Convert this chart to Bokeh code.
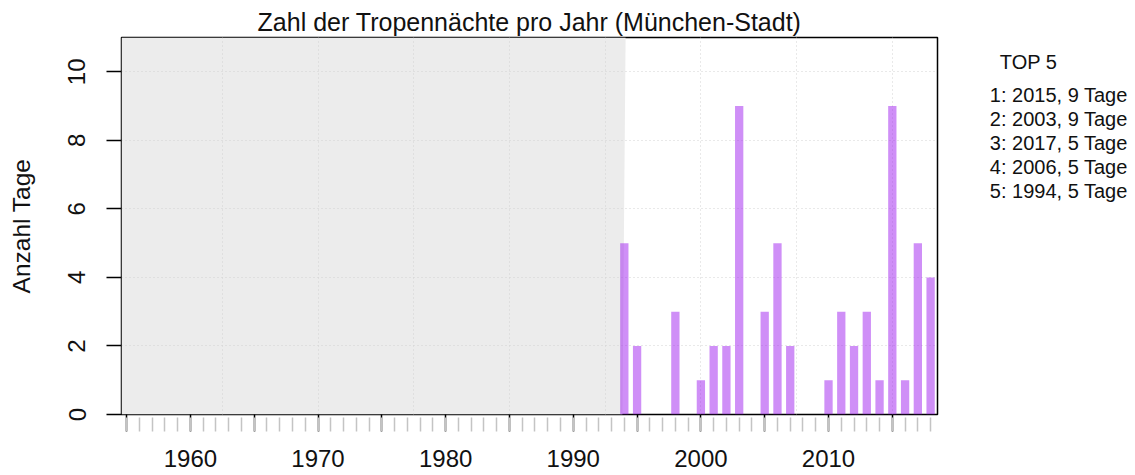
import numpy as np
from bokeh.plotting import figure
from bokeh.models import Range1d, FixedTicker, CustomJSTickFormatter
from bokeh.layouts import row
from bokeh.embed import file_html
from bokeh.resources import INLINE
from bokeh.core.properties import value

# ---- data ----
years = [1994, 1995, 1998, 2000, 2001, 2002, 2003, 2005, 2006, 2007,
         2010, 2011, 2012, 2013, 2014, 2015, 2016, 2017, 2018]
nights = [5, 2, 3, 1, 2, 2, 9, 3, 5, 2,
          1, 3, 2, 3, 1, 9, 1, 5, 4]
first_year = 1955
last_year = 2018
y_ticks = [0, 2, 4, 6, 8, 10]
# grey "no data" area ends (slightly slanted edge)
nodata_end_bottom = 1993.85
nodata_end_top = 1994.1

title_text = "Zahl der Tropennächte pro Jahr (München-Stadt)"
y_label = "Anzahl Tage"
legend_title = "TOP 5"
unit = "Tage"

FONT = "Liberation Sans"
TXT = "#111111"

# ---- ranking ----
ranked = sorted(zip(nights, years), reverse=True)[:5]
top_lines = [f"{i + 1}: {yr}, {n} {unit}" for i, (n, yr) in enumerate(ranked)]

# ---- layout constants (pixels) ----
W_MAIN, W_LEG, H = 945, 190, 475
B_LEFT, B_RIGHT, B_TOP, B_BOTTOM = 121, 8, 37, 61

# ---- main figure ----
x_lo, x_hi = 1954.6, 2018.54
y_lo, y_hi = 0, 11
p = figure(width=W_MAIN, height=H,
           x_range=Range1d(x_lo, x_hi), y_range=Range1d(y_lo, y_hi),
           output_backend="svg", toolbar_location=None,
           min_border_left=B_LEFT, min_border_right=B_RIGHT,
           min_border_top=B_TOP, min_border_bottom=B_BOTTOM)

p.title.text = title_text
p.title.align = "center"
p.title.text_font = FONT
p.title.text_font_size = "25px"
p.title.text_font_style = "normal"
p.title.text_color = TXT
p.title.standoff = 4
p.title.offset = 0

p.outline_line_color = "black"
p.outline_line_width = 1.5
p.background_fill_color = "white"
p.border_fill_color = "white"

# no-data area
p.patch(x=[x_lo, nodata_end_bottom, nodata_end_top, x_lo],
        y=[y_lo, y_lo, y_hi, y_hi],
        fill_color="#ececec", line_color=None, level="image")

# bars
p.vbar(x=years, top=nights, width=0.65, bottom=0,
       fill_color="#A020F0", fill_alpha=0.5, line_color=None)

# grid
p.xgrid.ticker = FixedTicker(ticks=list(np.arange(1962.5, 2016, 7.5)))
p.ygrid.ticker = FixedTicker(ticks=y_ticks)
for g in (p.xgrid, p.ygrid):
    g.grid_line_color = "#d3d3d3"
    g.grid_line_dash = "1 3"
    g.grid_line_width = 1

# x axis
xa = p.xaxis[0]
xa.ticker = FixedTicker(ticks=list(range(first_year, last_year + 1, 5)),
                        minor_ticks=list(range(first_year, last_year + 1)))
xa.formatter = CustomJSTickFormatter(code="return (tick % 10 === 0) ? tick.toFixed(0) : '';")
xa.axis_line_color = None
xa.major_tick_line_color = "black"
xa.major_tick_line_width = 1.5
xa.major_tick_out = 17
xa.major_tick_in = 0
xa.minor_tick_line_color = "#c4c4c4"
xa.minor_tick_line_width = 1.5
xa.minor_tick_out = 17
xa.minor_tick_in = -3
xa.major_label_text_font = FONT
xa.major_label_text_font_size = "24px"
xa.major_label_text_color = TXT
xa.major_label_standoff = 18

# y axis
ya = p.yaxis[0]
ya.ticker = FixedTicker(ticks=y_ticks)
ya.axis_line_color = None
ya.major_tick_line_color = "black"
ya.major_tick_line_width = 1.5
ya.major_tick_out = 15
ya.major_tick_in = 0
ya.minor_tick_line_color = None
ya.major_label_orientation = "vertical"
ya.major_label_text_font = FONT
ya.major_label_text_font_size = "24px"
ya.major_label_text_color = TXT
ya.major_label_standoff = 21
ya.axis_label = y_label
ya.axis_label_text_font = FONT
ya.axis_label_text_font_size = "24.5px"
ya.axis_label_text_font_style = "normal"
ya.axis_label_text_color = TXT
ya.axis_label_standoff = 31

# ---- legend panel (frame aligned with main frame; data units = pixels) ----
q = figure(width=W_LEG, height=H,
           x_range=Range1d(0, W_LEG), y_range=Range1d(H - B_BOTTOM, B_TOP),
           output_backend="svg", toolbar_location=None,
           x_axis_location=None, y_axis_location=None,
           min_border_left=0, min_border_right=0,
           min_border_top=B_TOP, min_border_bottom=B_BOTTOM)
q.grid.visible = False
q.outline_line_color = None
q.border_fill_color = "white"
q.background_fill_color = "white"
q.text(x=[54.3], y=[61.7], text=[legend_title],
       text_font=value(FONT), text_font_size="20px", text_color=TXT,
       text_align="left", text_baseline="alphabetic")
q.text(x=[44.3] * len(top_lines), y=[94.3 + 24.15 * i for i in range(len(top_lines))],
       text=top_lines,
       text_font=value(FONT), text_font_size="20px", text_color=TXT,
       text_align="left", text_baseline="alphabetic")

layout = row(p, q)
open("out.html", "w").write(file_html(layout, INLINE))
